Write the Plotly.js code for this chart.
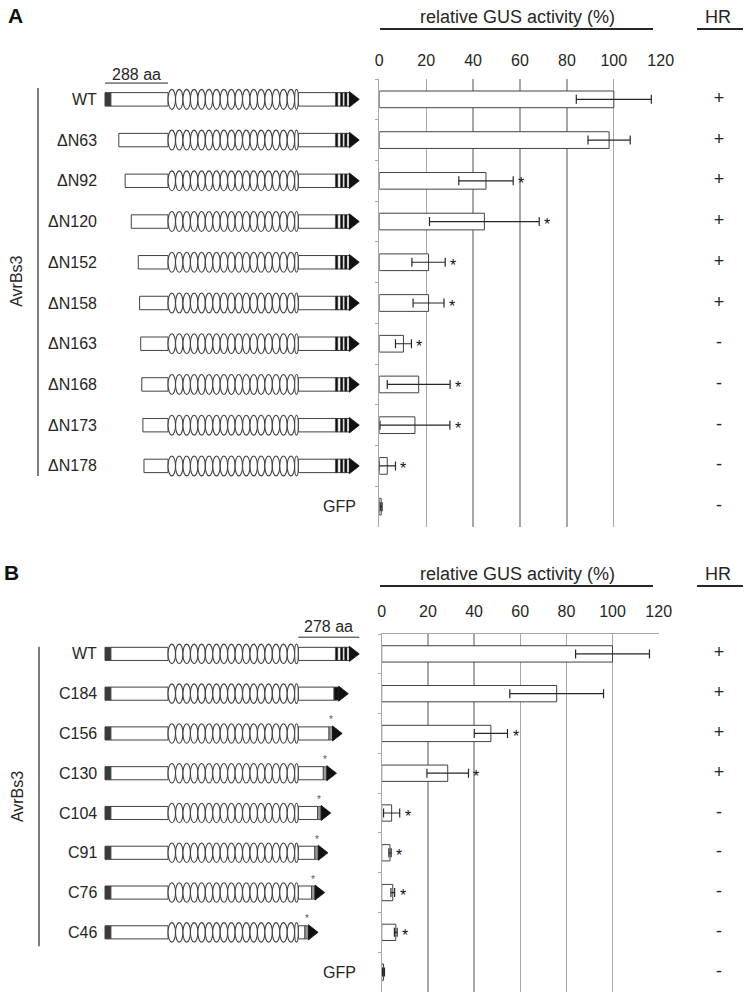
<!DOCTYPE html>
<html><head><meta charset="utf-8">
<script src="https://cdn.plot.ly/plotly-3.0.1.min.js"></script>
<style>html,body{margin:0;padding:0;background:#fff}</style>
</head><body><div id="chart" style="width:747px;height:999px"></div>
<script>
// ---------------- data: panel A (N-terminal deletions) ----------------
const labelsA = ['WT','ΔN63','ΔN92','ΔN120','ΔN152','ΔN158','ΔN163','ΔN168','ΔN173','ΔN178','GFP'];
const gusA    = [100, 98, 45.5, 44.8, 21, 21, 10.3, 16.8, 15.2, 3.4, 0.8];
const errA    = [16, 9, 11.6, 23.4, 7.1, 6.6, 3.4, 13.4, 14.9, 3.5, 0.4];
const sigA    = [false,false,true,true,true,true,true,true,true,true,false];
const hrA     = ['+','+','+','+','+','+','-','-','-','-','-'];
const nDelA   = [0, 63, 92, 120, 152, 158, 163, 168, 173, 178, null];

// ---------------- data: panel B (C-terminal truncations) ----------------
const labelsB = ['WT','C184','C156','C130','C104','C91','C76','C46','GFP'];
const gusB    = [100, 75.8, 47.3, 28.6, 4.3, 3.6, 4.8, 6.1, 0.8];
const errB    = [16, 20.3, 7.2, 9, 3.5, 0.5, 0.8, 0.6, 0.4];
const sigB    = [false,false,true,true,true,true,true,true,false];
const hrB     = ['+','+','+','+','-','-','-','-','-'];
const cLenB   = [278, 184, 156, 130, 104, 91, 76, 46, null];

const xTicks = [0, 20, 40, 60, 80, 100, 120];

// ---------------- styling / geometry ----------------
const W = 747, H = 999;
const FONT = '"Liberation Sans", Arial, Helvetica, sans-serif';
const INK = '#262626';
const GRID = '#a8a8a8';
const EDGE = '#404040';

// AvrBs3 domain architecture (amino acids)
const N_TERM = 288, REP = 34, N_REP = 17;
const C_START = N_TERM + REP * (N_REP + 0.5);   // 883
const WT_LEN = C_START + 278;                    // 1161
const AA_PX = 0.219, AA_ORIGIN_PX = 105;         // schematic scale
const aaAt = p => (p - AA_ORIGIN_PX) / AA_PX;

const fx = p => p / W;
const fy = p => 1 - p / H;

// ---------------- schematic shapes ----------------
const shapes = [];
const annotations = [];

function rect(yref, yc, x0, x1, h, fill, lw) {
  shapes.push({type:'rect', xref:'x5', yref:yref, x0:x0, x1:x1, y0:yc-h, y1:yc+h,
    fillcolor:fill, line:{color:EDGE, width:lw === undefined ? 1 : lw}});
}
function tri(yref, yc, x0, x1, h) {
  shapes.push({type:'path', xref:'x5', yref:yref,
    path:`M ${x0},${yc-h} L ${x1},${yc} L ${x0},${yc+h} Z`,
    fillcolor:'#111', line:{color:'#111', width:0.8}});
}
function repeats(yref, yc) {
  for (let j = 0; j < N_REP; j++) {
    shapes.push({type:'circle', xref:'x5', yref:yref, x0:N_TERM+REP*j, x1:N_TERM+REP*(j+1),
      y0:yc-0.245, y1:yc+0.245, fillcolor:'#fff', line:{color:EDGE, width:1.1}});
  }
  shapes.push({type:'circle', xref:'x5', yref:yref, x0:N_TERM+REP*N_REP, x1:C_START,
    y0:yc-0.245, y1:yc+0.245, fillcolor:'#fff', line:{color:EDGE, width:1.1}});
}
const BOX = 0.165, TRI = 0.19;
function nTerm(yref, yc, start) {
  if (start === 0) {
    rect(yref, yc, 0, 27, BOX, '#3a3a3a');
    rect(yref, yc, 27, N_TERM, BOX, '#fff');
  } else {
    rect(yref, yc, start, N_TERM, BOX, '#fff');
  }
}
function wtCTerm(yref, yc) {
  rect(yref, yc, C_START, WT_LEN - 45, BOX, '#fff');
  [[1052,1063],[1075,1086],[1094,1105]].forEach(s => rect(yref, yc, s[0], s[1], BOX, '#111', 0.5));
  tri(yref, yc, WT_LEN - 45, WT_LEN, TRI);
}

// Panel A constructs
nDelA.forEach((d, i) => {
  if (d === null) return;
  nTerm('y', i, d);
  repeats('y', i);
  wtCTerm('y', i);
});
// Panel B constructs
cLenB.forEach((c, i) => {
  if (c === null) return;
  nTerm('y2', i, 0);
  repeats('y2', i);
  if (c === 278) { wtCTerm('y2', i); return; }
  const sEnd = C_START + c;
  const black = (c === 184);
  const sStart = sEnd - (black ? 21 : 16);
  rect('y2', i, C_START, sStart, BOX, '#fff');
  rect('y2', i, sStart, sEnd, BOX, black ? '#111' : '#9a9a9a', 0.8);
  tri('y2', i, sEnd, sEnd + 44, TRI);
  if (!black) {
    annotations.push({xref:'x5', yref:'y2', x:(sStart+sEnd)/2, y:i-0.34, text:'*', showarrow:false,
      xanchor:'center', yanchor:'middle', font:{size:10, color:'#555', family:FONT}});
  }
});

// scale bars "288 aa" / "278 aa"
shapes.push({type:'line', xref:'x5', yref:'y', x0:0, x1:N_TERM, y0:-0.40, y1:-0.40, line:{color:INK, width:1}});
annotations.push({xref:'x5', yref:'paper', x:N_TERM/2, y:fy(75), text:'288 aa', showarrow:false,
  xanchor:'center', yanchor:'middle', font:{size:16, color:INK, family:FONT}});
shapes.push({type:'line', xref:'x5', yref:'y2', x0:C_START, x1:WT_LEN, y0:-0.42, y1:-0.42, line:{color:INK, width:1}});
annotations.push({xref:'x5', yref:'paper', x:(C_START+WT_LEN)/2, y:fy(626), text:'278 aa', showarrow:false,
  xanchor:'center', yanchor:'middle', font:{size:16, color:INK, family:FONT}});

// AvrBs3 brackets
shapes.push({type:'line', xref:'x5', yref:'y', x0:aaAt(38), x1:aaAt(38), y0:-0.28, y1:9.25, line:{color:INK, width:1.2}});
shapes.push({type:'line', xref:'x5', yref:'y2', x0:aaAt(39), x1:aaAt(39), y0:-0.18, y1:7.35, line:{color:INK, width:1.2}});
annotations.push({xref:'x5', yref:'y', x:aaAt(17), y:4.48, text:'AvrBs3', textangle:-90, showarrow:false,
  xanchor:'center', yanchor:'middle', font:{size:16, color:INK, family:FONT}});
annotations.push({xref:'x5', yref:'y2', x:aaAt(17), y:3.6, text:'AvrBs3', textangle:-90, showarrow:false,
  xanchor:'center', yanchor:'middle', font:{size:16, color:INK, family:FONT}});

// row labels
function rowLabels(labels, yref) {
  labels.forEach((t, i) => {
    const gfp = (t === 'GFP');
    annotations.push({xref:'x5', yref:yref, x:aaAt(gfp ? 358 : 99), y:t, text:t, xanchor:'right', yanchor:'middle',
      showarrow:false, font:{size:16, color:INK, family:FONT}});
  });
}
rowLabels(labelsA, 'y');
rowLabels(labelsB, 'y2');

// significance stars next to error bars
function stars(labels, gus, err, sig, xref, yref) {
  labels.forEach((t, i) => {
    if (!sig[i]) return;
    annotations.push({xref:xref, yref:yref, x:gus[i] + err[i], y:t, text:'*', xanchor:'left', yanchor:'middle',
      xshift:3, yshift:-3, showarrow:false, font:{size:16, color:'#111', family:FONT}});
  });
}
stars(labelsA, gusA, errA, sigA, 'x', 'y');
stars(labelsB, gusB, errB, sigB, 'x2', 'y2');

// headers
function header(yPx) {
  annotations.push({xref:'paper', yref:'paper', x:fx(517), y:fy(yPx), text:'relative GUS activity (%)',
    xanchor:'center', yanchor:'middle', showarrow:false, font:{size:18, color:INK, family:FONT}});
  annotations.push({xref:'paper', yref:'paper', x:fx(718), y:fy(yPx), text:'HR',
    xanchor:'center', yanchor:'middle', showarrow:false, font:{size:18, color:INK, family:FONT}});
  shapes.push({type:'line', xref:'paper', yref:'paper', x0:fx(380), x1:fx(653), y0:fy(yPx+12), y1:fy(yPx+12), line:{color:INK, width:1.8}});
  shapes.push({type:'line', xref:'paper', yref:'paper', x0:fx(697), x1:fx(743), y0:fy(yPx+12), y1:fy(yPx+12), line:{color:INK, width:1.8}});
}
header(17);
header(574);
annotations.push({xref:'paper', yref:'paper', x:fx(15), y:fy(16), text:'<b>A</b>', showarrow:false,
  xanchor:'center', yanchor:'middle', font:{size:21, color:'#111', family:FONT}});
annotations.push({xref:'paper', yref:'paper', x:fx(12), y:fy(572), text:'<b>B</b>', showarrow:false,
  xanchor:'center', yanchor:'middle', font:{size:21, color:'#111', family:FONT}});

// ---------------- traces ----------------
const HR_X = aaAt(719);
function barTrace(labels, gus, err, xa, ya) {
  return {type:'bar', orientation:'h', x:gus, y:labels, xaxis:xa, yaxis:ya, width:0.41,
    marker:{color:'#fff', line:{color:EDGE, width:1}},
    error_x:{type:'data', array:err, visible:true, color:INK, thickness:1.2, width:4.5},
    hoverinfo:'x+y', showlegend:false};
}
function hrTrace(labels, hr, ya) {
  return {type:'scatter', mode:'text', x:labels.map(() => HR_X), y:labels, text:hr, xaxis:'x5', yaxis:ya,
    textposition:'middle center', textfont:{size:18, color:INK, family:FONT},
    hoverinfo:'skip', showlegend:false, cliponaxis:false};
}
const data = [
  barTrace(labelsA, gusA, errA, 'x', 'y'),
  barTrace(labelsB, gusB, errB, 'x2', 'y2'),
  hrTrace(labelsA, hrA, 'y'),
  hrTrace(labelsB, hrB, 'y2')
];

function xAxis(d0, d1, anchor, line) {
  return {domain:[fx(d0), fx(d1)], range:[0, 120], side:'top', anchor:anchor,
    tickvals:xTicks, ticktext:xTicks.map(String), ticks:'', ticklabelstandoff:9,
    tickfont:{size:16, color:INK, family:FONT},
    showgrid:true, gridcolor:GRID, gridwidth:1.3, zeroline:false,
    showline:line, linecolor:GRID, linewidth:1.2, fixedrange:true};
}
function yAxis(labels, top, bottom, anchor) {
  return {domain:[fy(bottom), fy(top)], type:'category', categoryorder:'array', categoryarray:labels,
    range:[labels.length - 0.5, -0.5], anchor:anchor, showticklabels:false,
    ticks:'outside', ticklen:3, tickcolor:GRID, tickson:'boundaries',
    showline:true, linecolor:GRID, linewidth:1.2, showgrid:false, zeroline:false, fixedrange:true};
}

const layout = {
  width:W, height:H, margin:{l:0, r:0, t:0, b:0}, autosize:false,
  paper_bgcolor:'#fff', plot_bgcolor:'rgba(0,0,0,0)', showlegend:false,
  font:{family:FONT, color:INK},
  xaxis: xAxis(379.3, 660.7, 'y', false),
  yaxis: yAxis(labelsA, 79, 527, 'x'),
  xaxis2: xAxis(381.7, 658.7, 'y2', true),
  yaxis2: yAxis(labelsB, 634, 992, 'x2'),
  xaxis5: {domain:[0, 1], range:[aaAt(0), aaAt(W)], anchor:'y', visible:false, fixedrange:true},
  shapes: shapes,
  annotations: annotations
};

Plotly.newPlot('chart', data, layout, {staticPlot:true, displayModeBar:false});
</script>
</body></html>
